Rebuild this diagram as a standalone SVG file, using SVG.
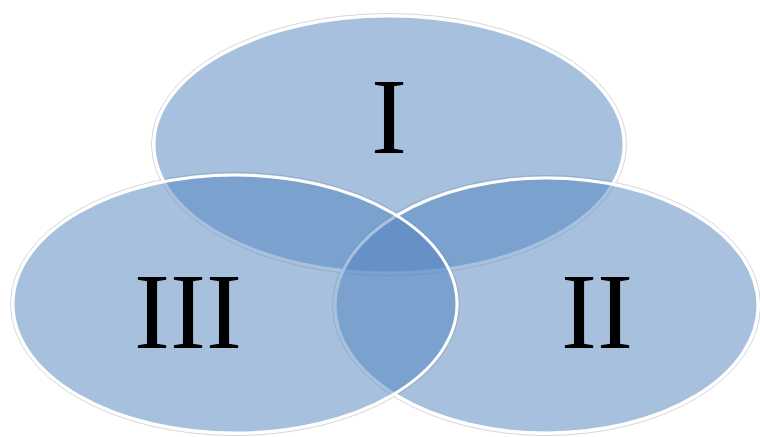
<svg xmlns="http://www.w3.org/2000/svg" width="760" height="437" viewBox="0 0 760 437">
  <style>
    .halo { fill: none; stroke: #d6d6d6; stroke-width: 1; }
    .set { fill: #4F81BD; fill-opacity: 0.5; stroke: #ffffff; stroke-width: 3; }
    .lbl { font-family: "Liberation Serif", "Times New Roman", serif; font-size: 108px; fill: #000000; text-anchor: middle; }
  </style>
  <rect x="0" y="0" width="760" height="437" fill="#ffffff"/>
  <g id="halos">
    <ellipse class="halo" cx="389" cy="144.5" rx="237.5" ry="131"/>
    <ellipse class="halo" cx="546.5" cy="305.5" rx="214" ry="130"/>
    <ellipse class="halo" cx="235" cy="304" rx="224.5" ry="131.5"/>
  </g>
  <g id="set-I">
    <ellipse class="set" cx="389" cy="144.5" rx="235" ry="128.5"/>
  </g>
  <g id="set-II">
    <ellipse class="set" cx="546.5" cy="305.5" rx="211.5" ry="127.5"/>
  </g>
  <g id="set-III">
    <ellipse class="set" cx="235" cy="304" rx="222" ry="129"/>
  </g>
  <g id="labels">
    <text class="lbl" x="389" y="153">I</text>
    <text class="lbl" x="597" y="348">II</text>
    <text class="lbl" x="188" y="348">III</text>
  </g>
</svg>
